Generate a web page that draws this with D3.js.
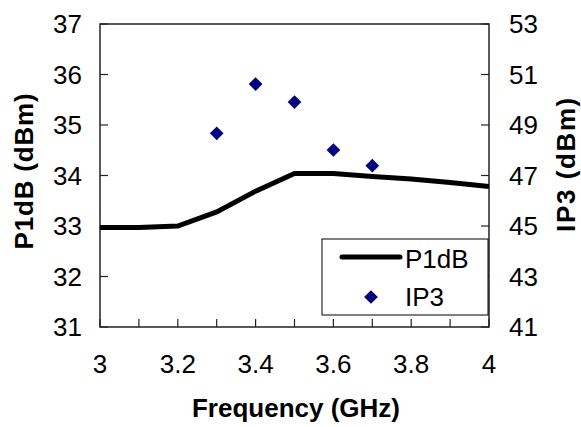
<!DOCTYPE html>
<html>
<meta charset="utf-8">
<style>
body { margin: 0; background: #fff; }
text { font-family: "Liberation Sans", Arial, sans-serif; fill: #000; }
.tick-label { font-size: 26px; }
.title { font-size: 26px; font-weight: bold; }
.legend-text { font-size: 26px; }
</style>
<body>
<script src="https://cdnjs.cloudflare.com/ajax/libs/d3/7.8.5/d3.min.js"></script>
<script>

var freq = [3.0, 3.1, 3.2, 3.3, 3.4, 3.5, 3.6, 3.7, 3.8, 3.9, 4.0];
var p1db = [32.97, 32.97, 33.0, 33.28, 33.69, 34.04, 34.04, 33.98, 33.93, 33.86, 33.78];

var ip3Freq = [3.3, 3.4, 3.5, 3.6, 3.7];
var ip3 = [48.67, 50.62, 49.91, 48.01, 47.39];

var xTicks = [3, 3.2, 3.4, 3.6, 3.8, 4];
var leftTicks = [31, 32, 33, 34, 35, 36, 37];
var rightTicks = [41, 43, 45, 47, 49, 51, 53];

var plotLeft = 100, plotRight = 489, plotTop = 24, plotBottom = 327;

var svg = d3.select("body").append("svg")
    .attr("width", 581)
    .attr("height", 427);

var x = d3.scaleLinear().domain([3, 4]).range([plotLeft, plotRight]);
var yL = d3.scaleLinear().domain([31, 37]).range([plotBottom, plotTop]);
var yR = d3.scaleLinear().domain([41, 53]).range([plotBottom, plotTop]);

// frame
svg.append("rect")
    .attr("x", plotLeft).attr("y", plotTop)
    .attr("width", plotRight - plotLeft).attr("height", plotBottom - plotTop)
    .attr("fill", "none").attr("stroke", "#222").attr("stroke-width", 1.5);

// x ticks (inside, every 0.1)
svg.selectAll(".xtick")
    .data(d3.range(0, 11).map(function(i) { return 3 + i / 10; }))
    .enter().append("line")
    .attr("x1", function(d) { return x(d); })
    .attr("x2", function(d) { return x(d); })
    .attr("y1", plotBottom).attr("y2", plotBottom - 8)
    .attr("stroke", "#222").attr("stroke-width", 1.2);

svg.selectAll(".xlabel")
    .data(xTicks)
    .enter().append("text")
    .attr("class", "tick-label")
    .attr("text-anchor", "middle")
    .attr("x", function(d) { return x(d); })
    .attr("y", 373)
    .text(function(d) { return d; });

// left ticks
svg.selectAll(".ltick")
    .data(leftTicks)
    .enter().append("line")
    .attr("x1", plotLeft).attr("x2", plotLeft + 8)
    .attr("y1", function(d) { return yL(d); })
    .attr("y2", function(d) { return yL(d); })
    .attr("stroke", "#222").attr("stroke-width", 1.2);

svg.selectAll(".llabel")
    .data(leftTicks)
    .enter().append("text")
    .attr("class", "tick-label")
    .attr("text-anchor", "end")
    .attr("x", 82)
    .attr("y", function(d) { return yL(d) + 9; })
    .text(function(d) { return d; });

// right ticks
svg.selectAll(".rtick")
    .data(rightTicks)
    .enter().append("line")
    .attr("x1", plotRight).attr("x2", plotRight - 8)
    .attr("y1", function(d) { return yR(d); })
    .attr("y2", function(d) { return yR(d); })
    .attr("stroke", "#222").attr("stroke-width", 1.2);

svg.selectAll(".rlabel")
    .data(rightTicks)
    .enter().append("text")
    .attr("class", "tick-label")
    .attr("text-anchor", "start")
    .attr("x", 509)
    .attr("y", function(d) { return yR(d) + 9; })
    .text(function(d) { return d; });

// titles
svg.append("text")
    .attr("class", "title")
    .attr("text-anchor", "middle")
    .attr("x", 296).attr("y", 417)
    .text("Frequency (GHz)");

svg.append("text")
    .attr("class", "title")
    .attr("text-anchor", "middle")
    .style("letter-spacing", "0.8px")
    .attr("transform", "translate(33,171) rotate(-90)")
    .text("P1dB (dBm)");

svg.append("text")
    .attr("class", "title")
    .attr("text-anchor", "middle")
    .style("letter-spacing", "1.6px")
    .attr("transform", "translate(575,164) rotate(-90)")
    .text("IP3 (dBm)");

// P1dB line
var line = d3.line()
    .x(function(d, i) { return x(freq[i]); })
    .y(function(d) { return yL(d); });

svg.append("path")
    .datum(p1db)
    .attr("d", line)
    .attr("fill", "none")
    .attr("stroke", "#000")
    .attr("stroke-width", 5);

// IP3 markers
var diamond = d3.symbol().type(d3.symbolDiamond2).size(120);

svg.selectAll(".ip3")
    .data(ip3)
    .enter().append("path")
    .attr("d", diamond)
    .attr("transform", function(d, i) {
        return "translate(" + x(ip3Freq[i]) + "," + yR(d) + ")";
    })
    .attr("fill", "#000080");

// legend
var legend = svg.append("g");
legend.append("rect")
    .attr("x", 322).attr("y", 239)
    .attr("width", 166).attr("height", 76)
    .attr("fill", "#fff").attr("stroke", "#000").attr("stroke-width", 1);
legend.append("line")
    .attr("x1", 342).attr("x2", 400)
    .attr("y1", 257).attr("y2", 257)
    .attr("stroke", "#000").attr("stroke-width", 5)
    .attr("stroke-linecap", "round");
legend.append("text")
    .attr("class", "legend-text")
    .attr("x", 405).attr("y", 268)
    .text("P1dB");
legend.append("path")
    .attr("d", diamond)
    .attr("transform", "translate(371,297)")
    .attr("fill", "#000080");
legend.append("text")
    .attr("class", "legend-text")
    .attr("x", 405).attr("y", 306)
    .text("IP3");

</script>
</body>
</html>
